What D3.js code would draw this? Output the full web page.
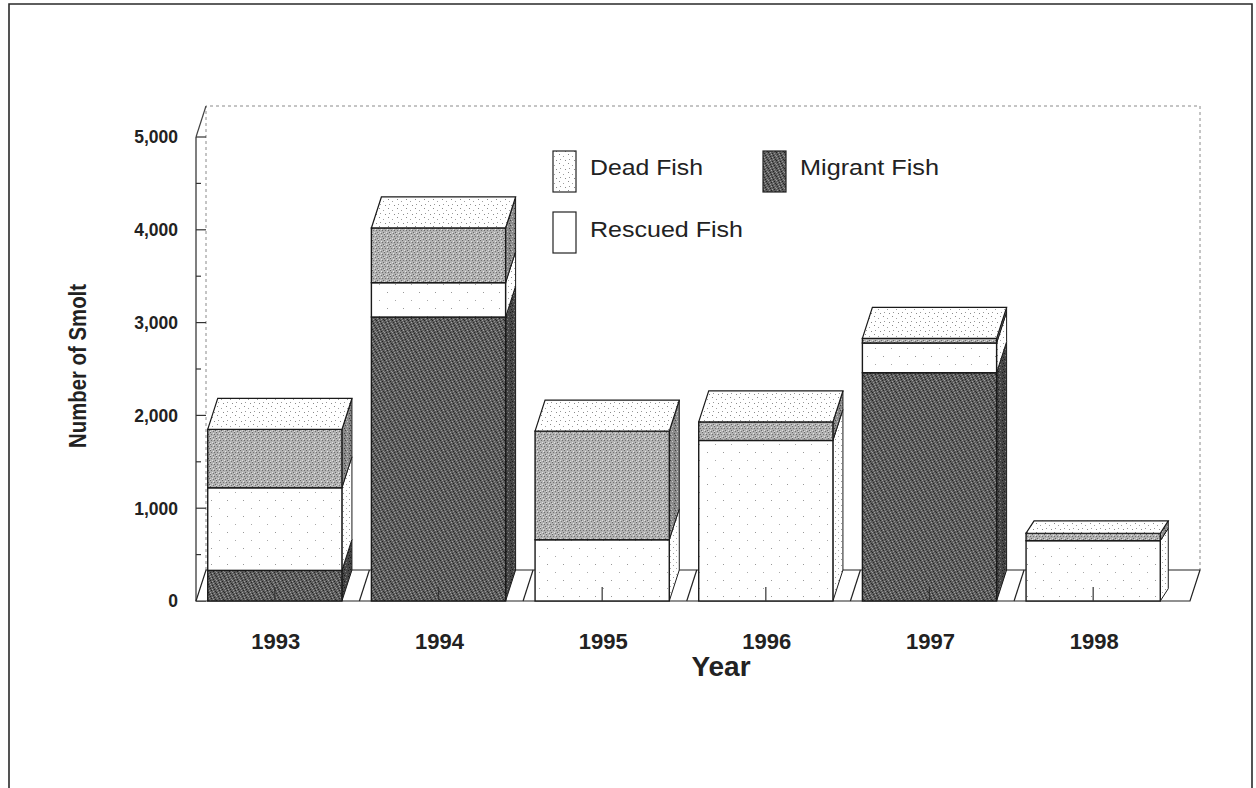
<!DOCTYPE html>
<html><head><meta charset="utf-8">
<script src="https://cdn.jsdelivr.net/npm/d3@7"></script>
<style>html,body{margin:0;padding:0;background:#fff}svg{display:block}</style>
</head><body><svg id="c" width="1256" height="788"></svg>
<script>
// ---- data ----
const years = ["1993", "1994", "1995", "1996", "1997", "1998"];
const migrant = [330, 3060, 0, 0, 2460, 0];
const rescued = [890, 370, 660, 1730, 320, 650];
const dead = [630, 590, 1170, 200, 50, 80];
const seriesKeys = ["migrant", "rescued", "dead"];
const legendLabels = ["Dead Fish", "Migrant Fish", "Rescued Fish"];
const yTicks = [0, 1000, 2000, 3000, 4000, 5000];
const yMinorTicks = [500, 1500, 2500, 3500, 4500];
const yTitle = "Number of Smolt";
const xTitle = "Year";

const rows = years.map((y, i) => ({year: y, migrant: migrant[i], rescued: rescued[i], dead: dead[i]}));

// ---- layout / style ----
const svg = d3.select("#c");
const W = 1256, H = 788;
const DX = 10, DY = -31;            // depth offset of the oblique projection
const floorL = 196, floorR = 1190;  // front floor extent
const shallowBar = {"1998": 0.4};   // the last box is drawn with a shallower depth in the original

const x = d3.scaleBand().domain(years).range([193, 1175]).paddingInner(0.18).paddingOuter(0.09);
const y = d3.scaleLinear().domain([0, 5000]).range([601, 137]);

const font = "Arial, 'Liberation Sans', Helvetica, sans-serif";

// ---- patterns ----
const defs = svg.append("defs");
function pattern(id, size, base, dots) {
  const p = defs.append("pattern").attr("id", id).attr("patternUnits", "userSpaceOnUse")
    .attr("width", size).attr("height", size);
  p.append("rect").attr("width", size).attr("height", size).attr("fill", base);
  dots.forEach(d => p.append("rect").attr("x", d[0]).attr("y", d[1]).attr("width", 1).attr("height", 1).attr("fill", d[2]));
}
pattern("pMig", 8, "#5e5e5e", [
  [0,0,"#222"],[2,0,"#a0a0a0"],[4,1,"#262626"],[6,1,"#909090"],[1,2,"#2a2a2a"],[3,2,"#a5a5a5"],
  [5,3,"#222"],[7,3,"#959595"],[0,4,"#9c9c9c"],[2,4,"#282828"],[4,5,"#a0a0a0"],[6,5,"#222"],
  [1,6,"#939393"],[3,6,"#242424"],[5,7,"#9a9a9a"],[7,7,"#2a2a2a"]]);
pattern("pMigSide", 6, "#474747", [[0,0,"#1c1c1c"],[3,1,"#808080"],[1,3,"#1c1c1c"],[4,4,"#828282"],[2,5,"#1c1c1c"]]);
pattern("pDead", 6, "#b2b2b2", [
  [0,0,"#666"],[3,1,"#e6e6e6"],[1,2,"#747474"],[4,2,"#6c6c6c"],[2,4,"#e0e0e0"],[5,4,"#6a6a6a"],[0,5,"#dedede"],[3,5,"#727272"]]);
pattern("pDeadSide", 5, "#8a8a8a", [[0,0,"#404040"],[2,1,"#c8c8c8"],[4,3,"#404040"],[1,4,"#bbb"]]);
pattern("pRes", 16, "#ffffff", [[3,4,"#999"],[11,12,"#aaa"]]);
pattern("pTop", 9, "#ffffff", [[1,1,"#8a8a8a"],[5,3,"#a0a0a0"],[2,6,"#999"],[7,7,"#8a8a8a"]]);
pattern("pResSide", 6, "#ffffff", [[1,1,"#999"],[4,4,"#aaa"]]);

const frontFill = {migrant: "url(#pMig)", rescued: "url(#pRes)", dead: "url(#pDead)"};
const sideFill = {migrant: "url(#pMigSide)", rescued: "url(#pResSide)", dead: "url(#pDeadSide)"};

svg.append("rect").attr("width", W).attr("height", H).attr("fill", "#fff");

// ---- outer frame ----
svg.append("path").attr("d", `M9,${H} V4 H1252 V${H}`).attr("fill", "none").attr("stroke", "#2a2a2a").attr("stroke-width", 1.6);

// ---- back wall ----
const g = svg.append("g");
const yTopFront = y(5000), y0 = y(0);
g.append("path").attr("d", `M${floorL + DX},${y0 + DY} V${yTopFront + DY} H${floorR + DX} V${y0 + DY}`)
  .attr("fill", "none").attr("stroke", "#8a8a8a").attr("stroke-width", 1).attr("stroke-dasharray", "3,3");

// left wall edge (axis) and its top slant
g.append("line").attr("x1", floorL).attr("x2", floorL).attr("y1", yTopFront).attr("y2", y0)
  .attr("stroke", "#555").attr("stroke-width", 1.5);
g.append("line").attr("x1", floorL).attr("y1", yTopFront).attr("x2", floorL + DX).attr("y2", yTopFront + DY)
  .attr("stroke", "#444").attr("stroke-width", 1.2);

// y ticks
g.selectAll(".ymaj").data(yTicks).join("line")
  .attr("x1", floorL).attr("x2", floorL + DX).attr("y1", d => y(d)).attr("y2", d => y(d))
  .attr("stroke", "#333").attr("stroke-width", 1.2);
g.selectAll(".ymin").data(yMinorTicks).join("line")
  .attr("x1", floorL).attr("x2", floorL + 5).attr("y1", d => y(d)).attr("y2", d => y(d))
  .attr("stroke", "#333").attr("stroke-width", 1.2);
g.selectAll(".ylab").data(yTicks).join("text")
  .attr("x", 178).attr("y", d => y(d)).attr("dy", "0.36em").attr("text-anchor", "end")
  .attr("font-family", font).attr("font-weight", "bold").attr("font-size", 17.5).attr("fill", "#222")
  .text(d => d3.format(",")(d));

// ---- floor ----
const fl = svg.append("g").attr("stroke", "#222").attr("stroke-width", 1.2).attr("fill", "none");
fl.append("path").attr("d", `M${floorL},${y0} L${floorL + DX},${y0 + DY} H${floorR + DX} L${floorR},${y0} Z`).attr("fill", "#fff");
fl.selectAll(".div").data(years.slice(1)).join("line")
  .attr("x1", d => x(d) - 12).attr("y1", y0).attr("x2", d => x(d) - 12 + DX).attr("y2", y0 + DY);

// ---- bars ----
const stack = d3.stack().keys(seriesKeys)(rows);
const bw = x.bandwidth();
const bars = svg.append("g");
rows.forEach((r, i) => {
  const x0 = x(r.year), x1 = x0 + bw;
  const f = shallowBar[r.year] || 1;
  const dx = DX * (f < 1 ? 0.8 : 1), dy = DY * f;
  const bg = bars.append("g");
  stack.forEach(s => {
    const seg = s[i];
    if (seg[1] - seg[0] <= 0) return;
    const ya = y(seg[0]), yb = y(seg[1]);
    bg.append("path")
      .attr("d", `M${x1},${ya} L${x1},${yb} L${x1 + dx},${yb + dy} L${x1 + dx},${ya + dy} Z`)
      .attr("fill", sideFill[s.key]).attr("stroke", "#1a1a1a").attr("stroke-width", 1);
    bg.append("rect").attr("x", x0).attr("y", yb).attr("width", bw).attr("height", ya - yb)
      .attr("fill", frontFill[s.key]).attr("stroke", "#1a1a1a").attr("stroke-width", 1.4);
  });
  const total = r.migrant + r.rescued + r.dead;
  const yt = y(total);
  bg.append("path")
    .attr("d", `M${x0},${yt} L${x1},${yt} L${x1 + dx},${yt + dy} L${x0 + dx},${yt + dy} Z`)
    .attr("fill", "url(#pTop)").attr("stroke", "#1a1a1a").attr("stroke-width", 1.2);
});

// x ticks at category centres
svg.append("g").selectAll("line").data(years).join("line")
  .attr("x1", d => x(d) + bw / 2).attr("x2", d => x(d) + bw / 2).attr("y1", y0).attr("y2", y0 - 14)
  .attr("stroke", "#333").attr("stroke-width", 1.2);

// x labels
svg.append("g").selectAll("text").data(years).join("text")
  .attr("x", d => x(d) + bw / 2 + 1).attr("y", 649).attr("text-anchor", "middle")
  .attr("font-family", font).attr("font-weight", "bold").attr("font-size", 22).attr("fill", "#222")
  .text(d => d);

// axis titles
svg.append("text").attr("x", 721).attr("y", 676).attr("text-anchor", "middle")
  .attr("font-family", font).attr("font-weight", "bold").attr("font-size", 28).attr("fill", "#222").text(xTitle);
svg.append("text").attr("transform", "translate(86,366) rotate(-90)").attr("text-anchor", "middle")
  .attr("textLength", 164).attr("lengthAdjust", "spacingAndGlyphs")
  .attr("font-family", font).attr("font-weight", "bold").attr("font-size", 23.5).attr("fill", "#222").text(yTitle);

// ---- legend ----
const legendItems = [
  {label: legendLabels[0], fill: "url(#pTop)", sx: 553, sy: 151, tx: 590, ty: 175, len: 113},
  {label: legendLabels[1], fill: "url(#pMig)", sx: 763, sy: 151, tx: 800, ty: 175, len: 139},
  {label: legendLabels[2], fill: "#fff", sx: 553, sy: 212, tx: 590, ty: 237, len: 153}
];
const lg = svg.append("g");
lg.selectAll("rect").data(legendItems).join("rect")
  .attr("x", d => d.sx).attr("y", d => d.sy).attr("width", 23).attr("height", 41)
  .attr("fill", d => d.fill).attr("stroke", "#222").attr("stroke-width", 1.2);
lg.selectAll("text").data(legendItems).join("text")
  .attr("x", d => d.tx).attr("y", d => d.ty).attr("textLength", d => d.len).attr("lengthAdjust", "spacingAndGlyphs")
  .attr("font-family", font).attr("font-size", 21.5).attr("fill", "#222").text(d => d.label);
</script>
</body></html>
